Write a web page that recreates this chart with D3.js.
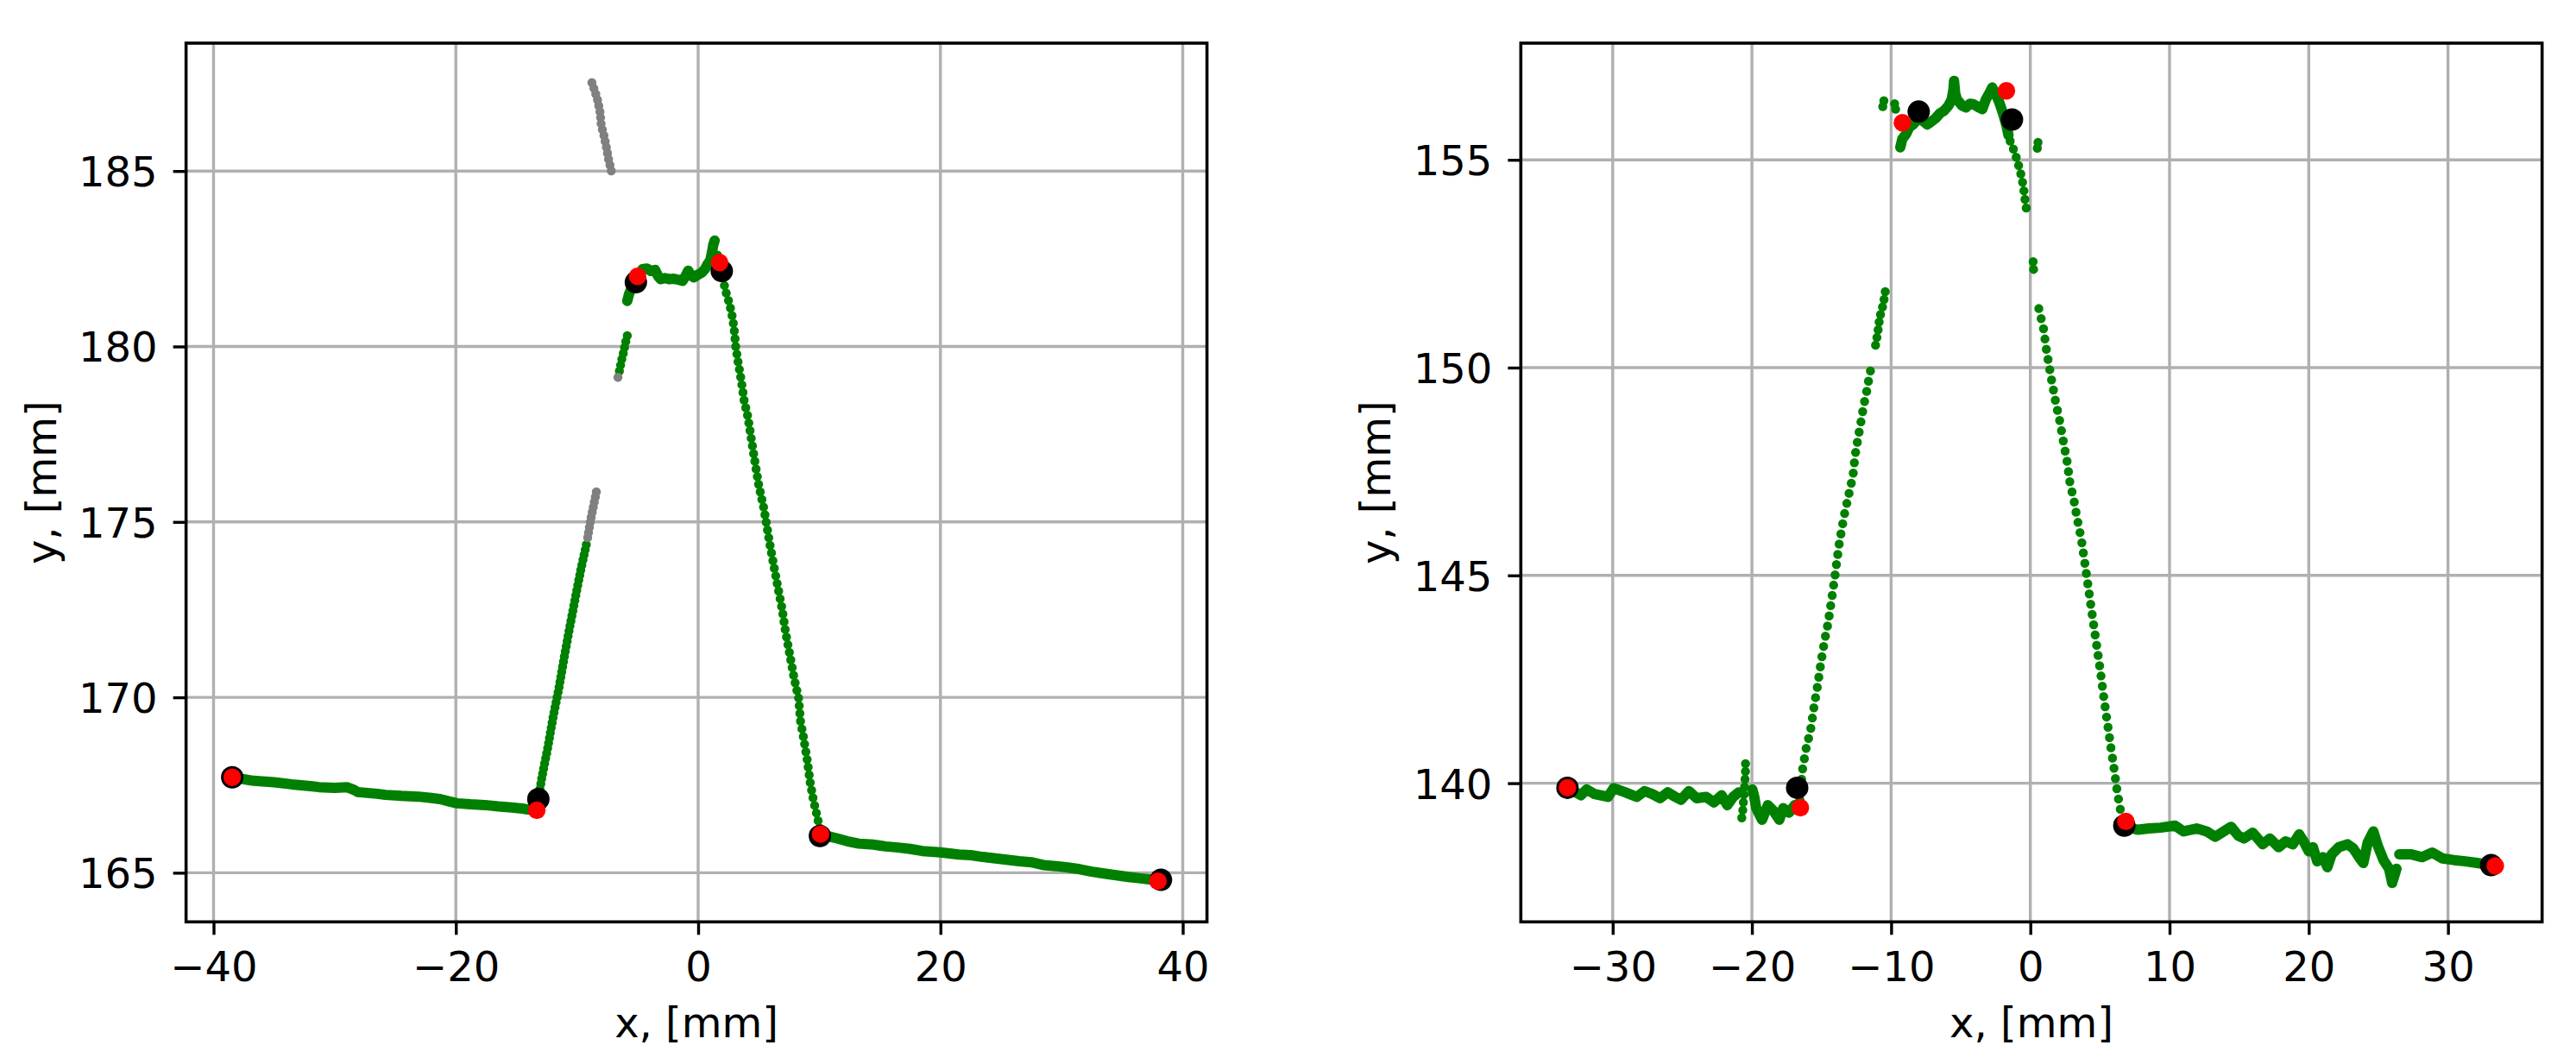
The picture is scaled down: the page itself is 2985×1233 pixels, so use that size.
<!DOCTYPE html>
<html><head><meta charset="utf-8">
<script src="https://cdn.jsdelivr.net/npm/d3@7"></script>
<style>html,body{margin:0;padding:0;background:#fff;} svg{display:block;}</style>
</head><body>
<svg id="chart" width="2985" height="1233"></svg>
<script>
// ================= DATA =================
const xLabel = "x, [mm]";
const yLabel = "y, [mm]";

const leftXTicks = [-40, -20, 0, 20, 40];
const leftYTicks = [165, 170, 175, 180, 185];
const rightXTicks = [-30, -20, -10, 0, 10, 20, 30];
const rightYTicks = [140, 145, 150, 155];

const leftXDomain = [-42.27, 42.0];
const leftYDomain = [163.60, 188.645];
const rightXDomain = [-36.6, 36.76];
const rightYDomain = [136.663, 157.807];

// ---- left panel: green trace ----
const leftFlatA = [[-38.46,167.72],[-36.7,167.62],[-35.0,167.58],[-33.55,167.52],[-32.0,167.47],[-31.3,167.44],[-30.0,167.42],[-29.0,167.44],[-28.4,167.36],[-28.1,167.3],[-26.5,167.25],[-25.8,167.22],[-24.5,167.19],[-23.1,167.17],[-22.0,167.13],[-21.3,167.1],[-20.5,167.03],[-19.9,166.98],[-18.8,166.95],[-17.6,166.93],[-16.5,166.89],[-15.4,166.86],[-14.5,166.83],[-13.8,166.79]];
const leftUp = [[-13.2,167.1],[-12.87,167.77],[-12.41,168.57],[-11.96,169.46],[-11.5,170.25],[-11.05,171.15],[-10.6,172.0],[-10.14,172.83],[-9.69,173.63],[-9.23,174.35]];
const leftGrayLow = [[-9.12,174.55],[-9.0,174.8],[-8.85,175.1],[-8.7,175.35],[-8.55,175.6],[-8.4,175.86]];
const leftGrayHigh = [[-8.77,187.52],[-8.55,187.3],[-8.32,187.05],[-8.09,186.67],[-8.0,186.3],[-7.78,186.02],[-7.55,185.64],[-7.41,185.36],[-7.2,185.05],[-7.05,184.84]];
const leftGraySingle = [[-6.62,179.12]];
const leftMid = [[-6.5,179.3],[-6.32,179.61],[-6.15,179.85],[-6.0,180.1],[-5.85,180.31]];
const leftTop = [[-5.85,181.3],[-5.7,181.5],[-5.45,181.7],[-5.2,181.85],[-4.9,182.05],[-4.6,182.2],[-4.23,182.22],[-3.9,182.15],[-3.55,182.18],[-3.3,182.0],[-3.09,181.92],[-2.75,181.95],[-2.41,181.92],[-2.0,181.93],[-1.6,181.9],[-1.28,181.87],[-1.05,182.0],[-0.82,182.16],[-0.6,182.02],[-0.36,181.97],[0.0,182.05],[0.31,182.11],[0.55,182.2],[0.77,182.34],[1.0,182.45],[1.15,182.7],[1.25,182.9],[1.36,183.02]];
const leftDown = [[1.6,182.6],[1.9,182.2],[2.1,181.85],[2.25,181.6],[2.6,181.2],[2.85,180.8],[3.0,180.4],[3.1,180.0],[3.3,179.55],[3.55,179.05],[3.8,178.45],[4.1,178.0],[4.35,177.45],[4.6,176.9],[5.0,176.05],[5.44,175.36],[5.9,174.4],[6.3,173.65],[6.63,173.05],[6.94,172.5],[7.22,171.85],[7.58,171.19],[7.93,170.53],[8.29,169.98],[8.45,169.32],[8.7,168.85],[9.0,168.22],[9.25,167.57],[9.5,167.1],[9.84,166.58],[10.15,166.1]];
const leftFlatB = [[10.1,166.08],[10.6,166.05],[11.45,165.98],[12.3,165.9],[13.27,165.83],[14.5,165.8],[15.5,165.75],[16.5,165.72],[17.5,165.68],[18.5,165.62],[20.0,165.58],[21.5,165.52],[22.5,165.5],[23.5,165.45],[25.0,165.39],[26.5,165.33],[27.5,165.3],[28.5,165.22],[29.54,165.19],[30.5,165.15],[31.5,165.1],[32.5,165.03],[33.5,164.98],[34.5,164.93],[35.5,164.88],[36.5,164.84],[37.5,164.8],[38.1,164.78]];
const leftBlack = [[-38.46,167.72],[-13.19,167.1],[-5.14,181.83],[1.95,182.15],[10.05,166.05],[38.2,164.8]];
const leftRed = [[-38.46,167.72],[-13.32,166.78],[-5.0,182.0],[1.77,182.39],[10.1,166.1],[37.95,164.76]];

// ---- right panel: green trace ----
const rightFlatA = [[-33.25,139.89],[-32.28,139.71],[-31.87,139.85],[-31.31,139.74],[-30.34,139.67],[-29.93,139.88],[-29.1,139.78],[-28.27,139.67],[-27.71,139.81],[-27.16,139.74],[-26.6,139.64],[-26.05,139.78],[-25.5,139.67],[-25.09,139.6],[-24.53,139.81],[-23.98,139.64],[-23.29,139.67],[-22.73,139.54],[-22.18,139.71],[-21.77,139.47],[-21.35,139.67],[-20.94,139.78]];
const rightSpike = [[-20.46,140.47],[-20.46,140.3],[-20.52,139.95],[-20.66,139.33],[-20.74,139.18],[-20.6,139.02]];
const rightFlatA2 = [[-19.97,139.85],[-19.83,139.67],[-19.69,139.4],[-19.27,139.12],[-18.86,139.47],[-18.44,139.33],[-18.03,139.12],[-17.76,139.4],[-17.34,139.29],[-16.93,139.47],[-16.6,139.5]];
const rightUp = [[-16.55,139.6],[-16.38,140.3],[-16.1,140.85],[-15.79,141.27],[-15.53,141.86],[-15.28,142.36],[-15.02,142.95],[-14.77,143.45],[-14.52,143.87],[-14.26,144.46],[-14.01,145.05],[-13.75,145.72],[-13.4,146.4],[-13.0,147.01],[-12.74,147.4],[-12.59,147.88],[-12.39,148.28],[-12.18,148.67],[-11.98,149.07],[-11.73,149.47],[-11.57,149.79],[-11.37,150.1]];
const rightUp2 = [[-11.12,150.54],[-10.97,150.82],[-10.81,151.22],[-10.56,151.53],[-10.41,151.85]];
const rightTopSingles = [[-10.6,156.28],[-10.52,156.42],[-9.75,156.35],[-9.68,156.22],[0.5,155.28],[0.55,155.42]];
const rightTop = [[-9.34,155.3],[-9.2,155.5],[-8.93,155.62],[-8.7,155.78],[-8.43,155.85],[-8.1,155.98],[-7.8,156.0],[-7.66,155.92],[-7.4,155.85],[-7.16,155.91],[-6.8,156.0],[-6.49,156.12],[-6.2,156.18],[-5.89,156.3],[-5.65,156.45],[-5.52,156.7],[-5.48,156.9],[-5.4,156.6],[-5.28,156.46],[-4.9,156.3],[-4.62,156.26],[-4.35,156.35],[-4.11,156.34],[-3.8,156.28],[-3.45,156.22],[-3.2,156.45],[-2.95,156.6],[-2.74,156.74],[-2.5,156.6],[-2.23,156.38],[-1.95,156.1],[-1.7,155.8],[-1.57,155.59]];
const rightDown = [[-1.45,155.45],[-1.32,155.35],[-1.1,155.15],[-0.91,154.95],[-0.66,154.63],[-0.5,154.36],[-0.4,154.08],[-0.3,153.85],[-0.2,153.68]];
const rightDown2 = [[0.2,152.55],[0.25,152.27]];
const rightDown3 = [[0.61,151.42],[0.97,150.9],[1.12,150.5],[1.32,150.1],[1.52,149.71],[1.83,149.15],[2.14,148.67],[2.34,148.28],[2.65,147.72],[2.84,147.24],[3.15,146.77],[3.35,146.39],[3.66,145.88],[4.02,145.05],[4.27,144.46],[4.52,143.87],[4.78,143.28],[5.03,142.7],[5.29,142.03],[5.54,141.44],[5.79,140.85],[6.05,140.27],[6.2,139.89],[6.3,139.68],[6.5,139.3],[6.7,139.05]];
const rightFlatB = [[6.75,139.0],[7.2,138.92],[7.71,138.88],[8.53,138.91],[9.36,138.93],[10.39,138.98],[11.01,138.84],[11.94,138.91],[12.66,138.84],[13.28,138.71],[13.9,138.84],[14.42,138.95],[14.93,138.74],[15.35,138.67],[15.97,138.81],[16.69,138.53],[17.21,138.67],[17.83,138.46],[18.34,138.6],[18.86,138.53],[19.31,138.77],[19.68,138.57],[20.0,138.36],[20.3,138.46],[20.61,138.12],[21.03,138.22],[21.34,137.98],[21.65,138.29],[22.16,138.46],[22.78,138.53],[23.2,138.43],[23.61,138.22],[23.92,138.08],[24.23,138.57],[24.64,138.84],[24.95,138.5],[25.37,138.15],[25.77,137.94],[25.99,137.6],[26.3,137.94]];
const rightFlatC = [[26.5,138.29],[27.32,138.29],[28.15,138.22],[28.87,138.33],[29.6,138.19],[30.42,138.15],[31.25,138.12],[32.08,138.08],[33.1,138.03]];
const rightBlack = [[-33.25,139.89],[-16.75,139.89],[-8.02,156.16],[-1.32,155.97],[6.75,138.98],[33.1,138.03]];
const rightRed = [[-33.25,139.89],[-16.52,139.41],[-9.19,155.89],[-1.72,156.66],[6.86,139.08],[33.4,138.01]];

// ================= LAYOUT / STYLE =================
const FONT = "DejaVu Sans";
const FS = 48;
const TOP = 50, BOTTOM = 1068.3;
const GREEN = "#008000", GRAY = "#808080", GRID = "#b0b0b0";
const DOT_W = 10.5;
const BAND_W = 12;

const panels = [
  { left: 215.6, right: 1398.6, xDom: leftXDomain, yDom: leftYDomain, xTicks: leftXTicks, yTicks: leftYTicks,
    bands: [leftFlatA, leftTop, leftFlatB],
    dotted: [{d: leftUp, c: GREEN, gap: 6}, {d: leftDown, c: GREEN, gap: 9}, {d: leftMid, c: GREEN, gap: 7},
             {d: leftGrayLow, c: GRAY, gap: 6}, {d: leftGrayHigh, c: GRAY, gap: 7}],
    singles: [{d: leftGraySingle, c: GRAY}],
    black: leftBlack, red: leftRed },
  { left: 1762.3, right: 2945.7, xDom: rightXDomain, yDom: rightYDomain, xTicks: rightXTicks, yTicks: rightYTicks,
    bands: [rightFlatA, rightFlatA2, rightTop, rightFlatB, rightFlatC],
    dotted: [{d: rightUp, c: GREEN, gap: 12}, {d: rightUp2, c: GREEN, gap: 9}, {d: rightDown, c: GREEN, gap: 10},
             {d: rightDown2, c: GREEN, gap: 9}, {d: rightDown3, c: GREEN, gap: 12}, {d: rightSpike, c: GREEN, gap: 9}],
    singles: [{d: rightTopSingles, c: GREEN}],
    black: rightBlack, red: rightRed }
];

const svg = d3.select("#chart");
svg.append("rect").attr("width", 2985).attr("height", 1233).attr("fill", "#fff");
const fmt = d3.format("d");

panels.forEach(p => {
  const x = d3.scaleLinear().domain(p.xDom).range([p.left, p.right]);
  const y = d3.scaleLinear().domain(p.yDom).range([BOTTOM, TOP]);
  const g = svg.append("g");

  // grid
  g.selectAll(null).data(p.xTicks).join("line")
    .attr("x1", d => x(d)).attr("x2", d => x(d)).attr("y1", TOP).attr("y2", BOTTOM)
    .attr("stroke", GRID).attr("stroke-width", 3.4);
  g.selectAll(null).data(p.yTicks).join("line")
    .attr("x1", p.left).attr("x2", p.right).attr("y1", d => y(d)).attr("y2", d => y(d))
    .attr("stroke", GRID).attr("stroke-width", 3.4);

  const line = d3.line().x(d => x(d[0])).y(d => y(d[1]));

  // dense bands
  p.bands.forEach(b => {
    g.append("path").attr("d", line(b)).attr("fill", "none").attr("stroke", GREEN)
      .attr("stroke-width", BAND_W).attr("stroke-linecap", "round").attr("stroke-linejoin", "round");
  });
  // dotted traces
  p.dotted.forEach(s => {
    g.append("path").attr("d", line(s.d)).attr("fill", "none").attr("stroke", s.c)
      .attr("stroke-width", DOT_W).attr("stroke-linecap", "round")
      .attr("stroke-dasharray", `0 ${s.gap}`);
  });
  // single points
  p.singles.forEach(s => {
    g.selectAll(null).data(s.d).join("circle")
      .attr("cx", d => x(d[0])).attr("cy", d => y(d[1])).attr("r", DOT_W / 2).attr("fill", s.c);
  });
  // black and red markers
  g.selectAll(null).data(p.black).join("circle")
    .attr("cx", d => x(d[0])).attr("cy", d => y(d[1])).attr("r", 13).attr("fill", "#000");
  g.selectAll(null).data(p.red).join("circle")
    .attr("cx", d => x(d[0])).attr("cy", d => y(d[1])).attr("r", 10.2).attr("fill", "#ff0000");

  // axes
  const ax = g.append("g").attr("transform", `translate(0,${BOTTOM})`)
    .call(d3.axisBottom(x).tickValues(p.xTicks).tickFormat(fmt).tickSize(15).tickSizeOuter(0));
  ax.select(".domain").remove();
  ax.selectAll("line").attr("stroke", "#000").attr("stroke-width", 3.4);
  ax.selectAll("text").attr("y", 69).attr("dy", null)
    .attr("font-family", FONT).attr("font-size", FS).attr("fill", "#000");

  const ay = g.append("g").attr("transform", `translate(${p.left},0)`)
    .call(d3.axisLeft(y).tickValues(p.yTicks).tickFormat(fmt).tickSize(15).tickSizeOuter(0));
  ay.select(".domain").remove();
  ay.selectAll("line").attr("stroke", "#000").attr("stroke-width", 3.4);
  ay.selectAll("text").attr("x", -33).attr("dy", "0.3645em")
    .attr("font-family", FONT).attr("font-size", FS).attr("fill", "#000");

  // frame
  g.append("rect").attr("x", p.left).attr("y", TOP).attr("width", p.right - p.left).attr("height", BOTTOM - TOP)
    .attr("fill", "none").attr("stroke", "#000").attr("stroke-width", 3.6);

  // labels
  g.append("text").attr("x", (p.left + p.right) / 2).attr("y", 1202).attr("text-anchor", "middle")
    .attr("font-family", FONT).attr("font-size", FS).text(xLabel);
  g.append("text").attr("transform", `translate(${p.left - 151},${(TOP + BOTTOM) / 2}) rotate(-90)`)
    .attr("text-anchor", "middle").attr("font-family", FONT).attr("font-size", FS).text(yLabel);
});
</script>
</body></html>
